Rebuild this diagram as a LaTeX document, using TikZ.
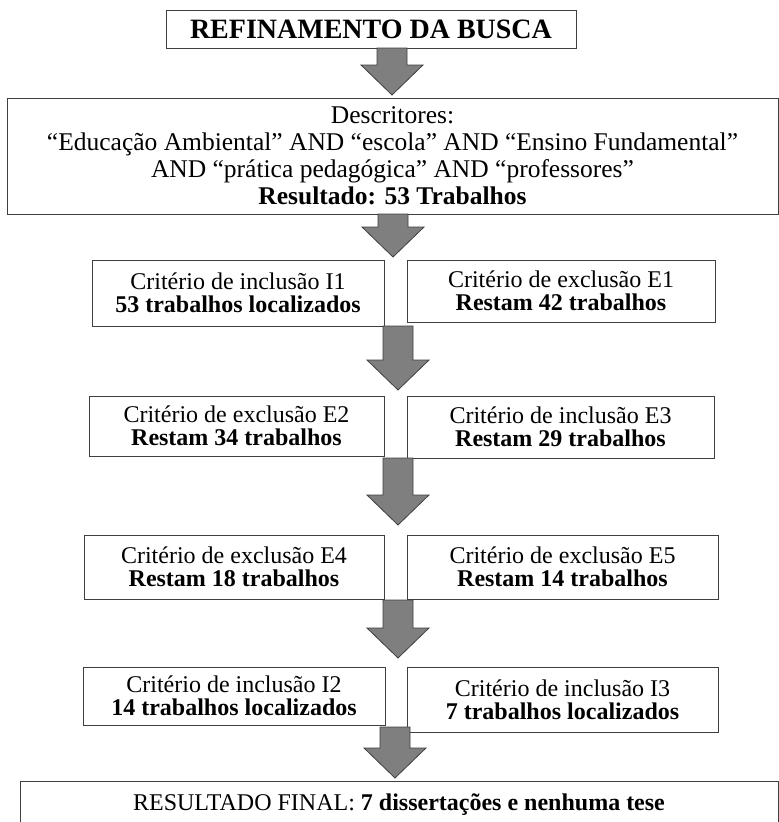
\documentclass[tikz,border=0pt]{standalone}
\usepackage{fontspec}
\setmainfont{Liberation Serif}
\usetikzlibrary{calc}
\definecolor{arrowgray}{HTML}{7F7F7F}
\definecolor{linegray}{HTML}{3F3F3F}

% fat block arrow between two named points
\newcommand{\bigarrow}[2]{%
\draw[blockarrow] ($(#1)+(-15,0)$) -- ($(#1)+(15,0)$) -- ($(#2)+(15,-30)$) -- ($(#2)+(31,-30)$)
  -- (#2) -- ($(#2)+(-31,-30)$) -- ($(#2)+(-15,-30)$) -- cycle;}

\begin{document}
\begin{tikzpicture}[x=1pt,y=-1pt,
  box/.style={draw=linegray,line width=1pt,fill=white,align=center,inner sep=0pt,
    font=\fontsize{24}{23}\selectfont},
  blockarrow/.style={draw=linegray,line width=0.8pt,fill=arrowgray}]
\useasboundingbox (0,0) rectangle (779,822);

\node[box,minimum width=410,minimum height=38,font=\fontsize{28}{30}\selectfont\bfseries] (top) at (371,29) {REFINAMENTO DA BUSCA};

\node[box,minimum width=771,minimum height=116,font=\fontsize{25.5}{27}\selectfont] (desc) at (392.5,156)
  {Descritores:\\ “Educação Ambiental” AND “escola” AND “Ensino Fundamental”\\
   AND “prática pedagógica” AND “professores”\\ \textbf{Resultado: 53 Trabalhos}};

\node[box,minimum width=292,minimum height=66] (i1) at (238,293) {Critério de inclusão I1\\ \textbf{53 trabalhos localizados}};
\node[box,minimum width=308,minimum height=62] (e1) at (561,291) {Critério de exclusão E1\\ \textbf{Restam 42 trabalhos}};

\node[box,minimum width=295,minimum height=60] (e2) at (236.5,426) {Critério de exclusão E2\\ \textbf{Restam 34 trabalhos}};
\node[box,minimum width=307,minimum height=62] (e3) at (560.5,427) {Critério de inclusão E3\\ \textbf{Restam 29 trabalhos}};

\node[box,minimum width=300,minimum height=64] (e4) at (234,567) {Critério de exclusão E4\\ \textbf{Restam 18 trabalhos}};
\node[box,minimum width=311,minimum height=64] (e5) at (562.5,567) {Critério de exclusão E5\\ \textbf{Restam 14 trabalhos}};

\node[box,minimum width=302,minimum height=58] (i2) at (234,696) {Critério de inclusão I2\\ \textbf{14 trabalhos localizados}};
\node[box,minimum width=311,minimum height=65] (i3) at (562.5,699.5) {Critério de inclusão I3\\ \textbf{7 trabalhos localizados}};

\node[box,minimum width=758,minimum height=46,anchor=north] (final) at (399,781) {RESULTADO FINAL: \textbf{7 dissertações e nenhuma tese}};

% arrow ends
\coordinate (a1t) at (392,48);  \coordinate (a1b) at (392,95);
\coordinate (a2t) at (393,214); \coordinate (a2b) at (393,257);
\coordinate (a3t) at (398,326); \coordinate (a3b) at (398,390);
\coordinate (a4t) at (398,458); \coordinate (a4b) at (398,525);
\coordinate (a5t) at (398,600); \coordinate (a5b) at (398,658);
\coordinate (a6t) at (395,727); \coordinate (a6b) at (395,778);

\bigarrow{a1t}{a1b}
\bigarrow{a2t}{a2b}
\bigarrow{a3t}{a3b}
\bigarrow{a4t}{a4b}
\bigarrow{a5t}{a5b}
\bigarrow{a6t}{a6b}

\end{tikzpicture}
\end{document}
